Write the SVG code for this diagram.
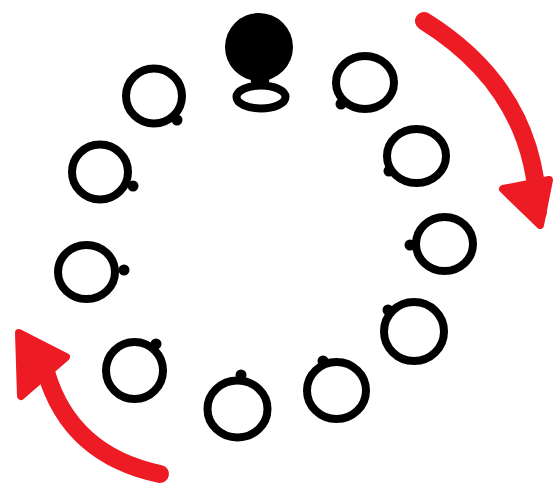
<svg xmlns="http://www.w3.org/2000/svg" width="559" height="487" viewBox="0 0 559 487">
<style>
.ring{fill:none;stroke:#000;stroke-width:8}
.dot{fill:#000}
.shaft{fill:none;stroke:#ED1C24;stroke-width:18;stroke-linecap:round}
.head{fill:#ED1C24;stroke:#ED1C24;stroke-width:8;stroke-linejoin:round}
</style>
<rect width="559" height="487" fill="#fff"/>
<g id="node-head">
<ellipse cx="261" cy="97" rx="24.5" ry="11.5" class="ring"/>
<path class="dot" d="M250,76 L270,76 L268,88 L252,88 Z"/>
<circle cx="259" cy="47" r="34" class="dot"/>
</g>
<g id="node-1"><ellipse cx="154" cy="96" rx="28" ry="27.5" class="ring"/><circle cx="177" cy="120" r="5.5" class="dot"/></g>
<g id="node-2"><ellipse cx="100" cy="172" rx="28" ry="27.5" class="ring"/><circle cx="133" cy="186" r="5.5" class="dot"/></g>
<g id="node-3"><ellipse cx="86.5" cy="272" rx="28.5" ry="27" class="ring"/><circle cx="124" cy="270" r="5.5" class="dot"/></g>
<g id="node-4"><ellipse cx="134.5" cy="370.5" rx="28.5" ry="28.5" class="ring"/><circle cx="156" cy="344" r="5.5" class="dot"/></g>
<g id="node-5"><ellipse cx="237.5" cy="409" rx="30" ry="28.5" class="ring"/><circle cx="241" cy="375" r="5.5" class="dot"/></g>
<g id="node-6"><ellipse cx="336.5" cy="390.5" rx="29.5" ry="28.5" class="ring"/><circle cx="323" cy="361" r="5.5" class="dot"/></g>
<g id="node-7"><ellipse cx="414" cy="331.5" rx="30" ry="29.5" class="ring"/><circle cx="388" cy="310" r="5.5" class="dot"/></g>
<g id="node-8"><ellipse cx="444.5" cy="244" rx="28.5" ry="27" class="ring"/><circle cx="410" cy="245" r="5.5" class="dot"/></g>
<g id="node-9"><ellipse cx="416.5" cy="156" rx="29.5" ry="27" class="ring"/><circle cx="389" cy="171" r="5.5" class="dot"/></g>
<g id="node-10"><ellipse cx="365" cy="82.5" rx="29" ry="26.5" class="ring"/><circle cx="341" cy="104" r="5.5" class="dot"/></g>
<g id="connectors">
<path class="shaft" d="M424,21 Q535,90 538,212"/>
<polygon class="head" points="503,189 549,180 540,225"/>
<path class="shaft" d="M160,474 Q70,455 46,372"/>
<polygon class="head" points="19,333 66,357 21,396"/>
</g>
</svg>
